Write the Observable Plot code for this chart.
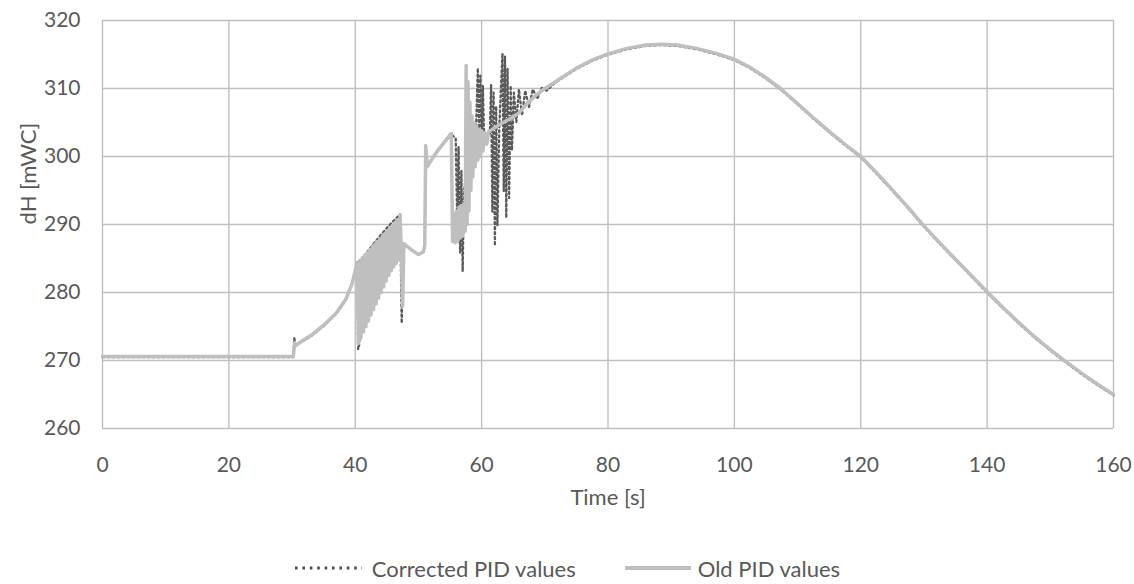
<!DOCTYPE html>
<html>
<head>
<meta charset="utf-8">
<script src="https://cdn.jsdelivr.net/npm/d3@7"></script>
<script src="https://cdn.jsdelivr.net/npm/@observablehq/plot@0.6"></script>
<style>
  html, body { margin: 0; padding: 0; background: #fff; }
  #chart { width: 1134px; }
  .legend { display: flex; justify-content: center; align-items: center; font-family: Lato, sans-serif; font-size: 22px; color: #595959; height: 30px; margin-top: 13px; }
  .legend .item { display: flex; align-items: center; }
  .legend svg { display: block; }
</style>
</head>
<body>
<div id="chart"></div>
<script>
// ---- tick labels ----
const xTicks = [0, 20, 40, 60, 80, 100, 120, 140, 160];
const yTicks = [260, 270, 280, 290, 300, 310, 320];
const seriesNames = ["Corrected PID values", "Old PID values"];
const xLabel = "Time [s]";
const yLabel = "dH [mWC]";

// ---- Corrected PID values (time s, dH mWC) ----
const corrT = [0, 30.2, 30.35, 30.55, 31, 33, 35, 37, 38.5, 39.5, 40.2, 40.35, 40.45, 40.6, 41.6, 42, 43, 44, 45, 46, 47.1, 47.35, 47.6, 48.2, 49, 50, 50.8, 51.0, 51.15, 51.4, 51.7, 53, 54, 55.3,
  55.9, 56.15, 56.35, 56.6, 56.8, 57.0, 57.2, 57.5, 58, 59.0,
  59.4, 59.6, 59.8, 60.0, 60.2, 60.4, 61.3,
  61.5, 61.7, 61.9, 62.1, 62.3, 62.5, 62.8,
  63.3, 63.5, 63.7, 63.9, 64.1, 64.35, 64.6, 64.8,
  65.1, 65.5, 65.9, 66.4, 66.9, 67.5, 68.1, 68.8, 69.5, 70.3, 71.4];
const corrV = [270.6, 270.6, 273.4, 272.4, 272.6, 273.7, 275.2, 277.0, 279.0, 281.4, 284.0, 284.6, 271.8, 272.3, 285.6, 286.2, 287.4, 288.5, 289.6, 290.6, 291.6, 275.6, 287.2, 286.9, 286.3, 285.7, 286.1, 287.1, 301.7, 298.6, 299.1, 300.9, 302.1, 303.3,
  302.8, 290, 301.5, 286, 298, 283.2, 295, 297, 299, 300.5,
  313.1, 303.5, 312, 302, 310.5, 302.5, 303.5,
  310.7, 292, 309.5, 287, 307.5, 290, 304.5,
  315.3, 295, 314.8, 291.1, 313, 294, 310.5, 301,
  309.5, 305.2, 310, 306.2, 309.8, 307.4, 310, 308.6, 310.2, 309.8, 310.8];

// ---- Old PID values (time s, dH mWC) ----
const oldT = [0, 30.2, 30.4, 30.6, 31, 33, 35, 37, 38.5, 39.5, 40.1,
  40.3, 40.5, 40.7, 40.9, 41.1, 41.3, 41.5, 41.7, 41.9, 42.1, 42.3, 42.5, 42.7, 42.9, 43.1, 43.3, 43.5, 43.7, 43.9, 44.1, 44.3, 44.5, 44.7, 44.9, 45.1, 45.3, 45.5, 45.7, 45.9, 46.1, 46.3, 46.5, 46.7, 46.9, 47.1,
  47.25, 47.5, 47.7, 48.2, 49, 50, 50.8, 51.0, 51.15, 51.4, 51.7, 53, 54, 55.2,
  55.4, 55.6, 55.8, 56.0, 56.2, 56.4, 56.6, 56.8, 57.0, 57.2, 57.4, 57.55, 57.7, 57.85, 58.0, 58.15, 58.3, 58.45, 58.6, 58.8, 59.0, 59.2, 59.4, 59.6, 59.8, 60.0, 60.2, 60.5, 60.8, 61.1, 61.4,
  62, 63, 64, 65, 66, 67, 68, 69, 70, 71];
const oldV = [270.6, 270.6, 272.6, 272.2, 272.5, 273.7, 275.2, 277.0, 279.0, 281.3, 283.6,
  284.3, 272.5, 284.7, 273.3, 285.1, 274.2, 285.5, 275.0, 285.9, 275.8, 286.3, 276.7, 286.7, 277.5, 287.1, 278.3, 287.5, 279.2, 287.9, 280.0, 288.3, 280.8, 288.7, 281.7, 289.1, 282.5, 289.5, 283.2, 289.9, 283.8, 290.3, 284.3, 290.7, 284.8, 291.4,
  287.0, 278.0, 287.2, 286.8, 286.2, 285.6, 286.0, 287.0, 301.6, 298.5, 299.0, 300.8, 302.0, 303.4,
  287.5, 291.5, 287.3, 292, 287.5, 292.5, 288, 292.8, 288.3, 293, 289, 313.4, 290, 311, 292, 308, 295, 306, 297, 305, 298.5, 304.5, 299.5, 304, 300, 303.8, 300.8, 303.5, 301.8, 303.6, 303.8,
  304.2, 304.8, 305.3, 305.8, 306.5, 307.6, 308.5, 309.3, 310.0, 310.6];

// ---- common smooth part after the oscillations (both series) ----
const tailT = [72.5, 75, 77.5, 80, 83, 86, 88.5, 91, 94, 97, 100, 102.5, 105, 107.3, 110, 112.5, 115, 117.5, 120, 122.5, 125, 127.5, 130, 132.5, 135, 137.5, 140, 142.5, 145, 147.5, 150, 152.5, 155, 157.5, 160];
const tailV = [311.5, 313.0, 314.2, 315.1, 315.9, 316.4, 316.5, 316.4, 315.9, 315.2, 314.3, 313.1, 311.6, 310.0, 307.8, 305.7, 303.7, 301.8, 300.0, 297.6, 295.1, 292.5, 289.8, 287.3, 284.9, 282.5, 280.1, 277.8, 275.6, 273.5, 271.6, 269.8, 268.1, 266.5, 265.0];

// build tables
const toRows = (T, V) => T.map((t, i) => ({t, v: V[i]}));
const tail = toRows(tailT, tailV);
const corrRows = toRows(corrT, corrV).concat(tail);
const oldRows = toRows(oldT, oldV).concat(tail);

const textColor = "#595959";
const gridColor = "#bfbfbf";

const chart = Plot.plot({
  width: 1134,
  height: 540,
  marginLeft: 102,
  marginRight: 21,
  marginTop: 20,
  marginBottom: 112,
  style: {fontFamily: "Lato, sans-serif", fontSize: "21px", color: textColor, background: "#fff"},
  x: {domain: [0, 160]},
  y: {domain: [260, 320]},
  marks: [
    Plot.gridX(xTicks, {stroke: gridColor, strokeOpacity: 1, strokeWidth: 1.4}),
    Plot.gridY(yTicks, {stroke: gridColor, strokeOpacity: 1, strokeWidth: 1.4}),
    Plot.axisX(xTicks, {tickSize: 0, tickPadding: 29, label: null, fill: textColor}),
    Plot.axisY(yTicks, {tickSize: 0, tickPadding: 22, label: null, fill: textColor}),
    Plot.line(corrRows, {x: "t", y: "v", stroke: "#595959", strokeWidth: 2.3, strokeDasharray: "2,3", dy: 0.8}),
    Plot.line(oldRows, {x: "t", y: "v", stroke: gridColor, strokeWidth: 3.5}),
    Plot.text([xLabel], {frameAnchor: "bottom", dy: 76, fontSize: 22, fill: textColor}),
    Plot.text([yLabel], {frameAnchor: "left", dx: -74, rotate: -90, fontSize: 22, fill: textColor})
  ]
});

const wrap = document.getElementById("chart");
wrap.appendChild(chart);

// legend below the chart
const legend = document.createElement("div");
legend.className = "legend";
legend.innerHTML =
  `<div class="item"><svg width="68" height="12"><line x1="1" y1="6" x2="68" y2="6" stroke="#4d4d4d" stroke-width="3" stroke-dasharray="2.6,4.8"/></svg><span style="margin-left:10px">${seriesNames[0]}</span></div>` +
  `<div class="item" style="margin-left:49px"><svg width="66" height="12"><line x1="0" y1="6" x2="66" y2="6" stroke="${gridColor}" stroke-width="4"/></svg><span style="margin-left:7px">${seriesNames[1]}</span></div>`;
wrap.appendChild(legend);
</script>
</body>
</html>
